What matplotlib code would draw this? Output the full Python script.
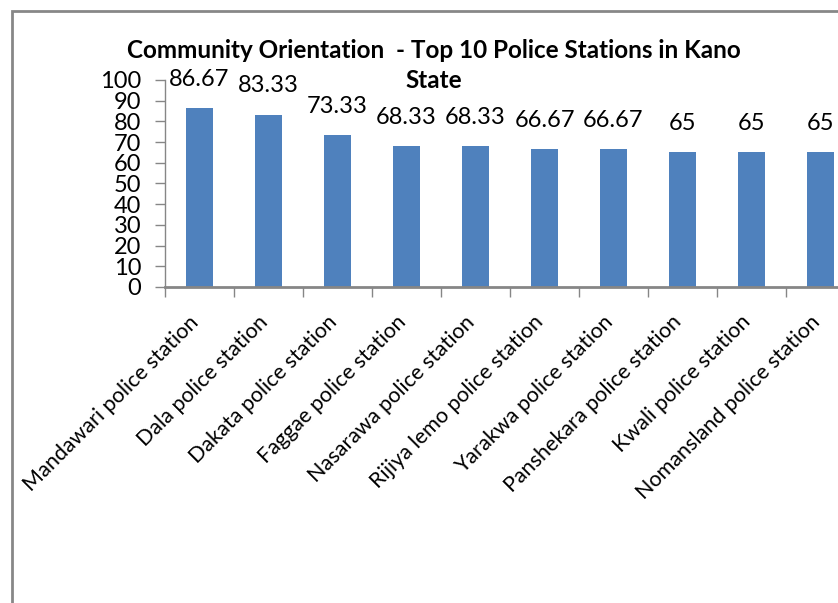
import matplotlib
matplotlib.use("Agg")
import matplotlib.pyplot as plt
import matplotlib.transforms as mtransforms
from matplotlib.patches import Rectangle
import numpy as np

plt.rcParams['font.family'] = ['Lato', 'DejaVu Sans']

stations = ["Mandawari police station", "Dala police station", "Dakata police station",
            "Faggae police station", "Nasarawa police station", "Rijiya lemo police station",
            "Yarakwa police station", "Panshekara police station", "Kwali police station",
            "Nomansland police station"]
scores = [86.67, 83.33, 73.33, 68.33, 68.33, 66.67, 66.67, 65, 65, 65]
score_labels = ["86.67", "83.33", "73.33", "68.33", "68.33", "66.67", "66.67", "65", "65", "65"]

W, H = 838, 603
fig = plt.figure(figsize=(W / 100, H / 100), dpi=100)

# chart area border (cut off on the right and bottom like the original screenshot)
fig.patches.append(Rectangle((12 / W, -0.1), 1.2, 1 - 11 / H + 0.1, transform=fig.transFigure,
                             fill=False, edgecolor="#878787", linewidth=2))

grey = "#868686"
ax = fig.add_axes([165 / W, 1 - 287 / H, 690 / W, 207 / H])
x = np.arange(len(stations))
bars = ax.bar(x, scores, width=0.4, color="#4F81BD", zorder=2)

ax.set_xlim(-0.5, len(stations) - 0.5)
ax.set_ylim(0, 100)
ax.set_yticks(range(0, 101, 10))
ax.tick_params(axis="y", colors=grey, length=7, width=1, labelsize=17, labelcolor="black", pad=10)

ax.set_xticks(x)
ax.set_xticklabels(stations, rotation=45, ha="right", va="center", rotation_mode="anchor",
                   fontsize=15.5)
ax.tick_params(axis="x", length=0, pad=23)
shift = mtransforms.ScaledTranslation(-4 / 100, 0, fig.dpi_scale_trans)
for lbl in ax.get_xticklabels():
    lbl.set_transform(lbl.get_transform() + shift)
ax.set_xticks(np.arange(-0.5, len(stations), 1), minor=True)
ax.tick_params(axis="x", which="minor", length=7, color=grey, width=1)

for s in ["top", "right"]:
    ax.spines[s].set_visible(False)
for s in ["left", "bottom"]:
    ax.spines[s].set_color(grey)
ax.spines["left"].set_linewidth(1)
ax.spines["bottom"].set_linewidth(2)

for xi, v, lab in zip(x, scores, score_labels):
    ax.annotate(lab, (xi, v), xytext=(0, 13), textcoords="offset points",
                ha="center", va="bottom", fontsize=17, clip_on=False)

fig.text(434 / W, 1 - 51 / H, "Community Orientation  - Top 10 Police Stations in Kano",
         ha="center", va="center", fontsize=17.5, fontweight="bold")
fig.text(434 / W, 1 - 81 / H, "State", ha="center", va="center", fontsize=17.5, fontweight="bold")

fig.savefig("out.png", dpi=100)
